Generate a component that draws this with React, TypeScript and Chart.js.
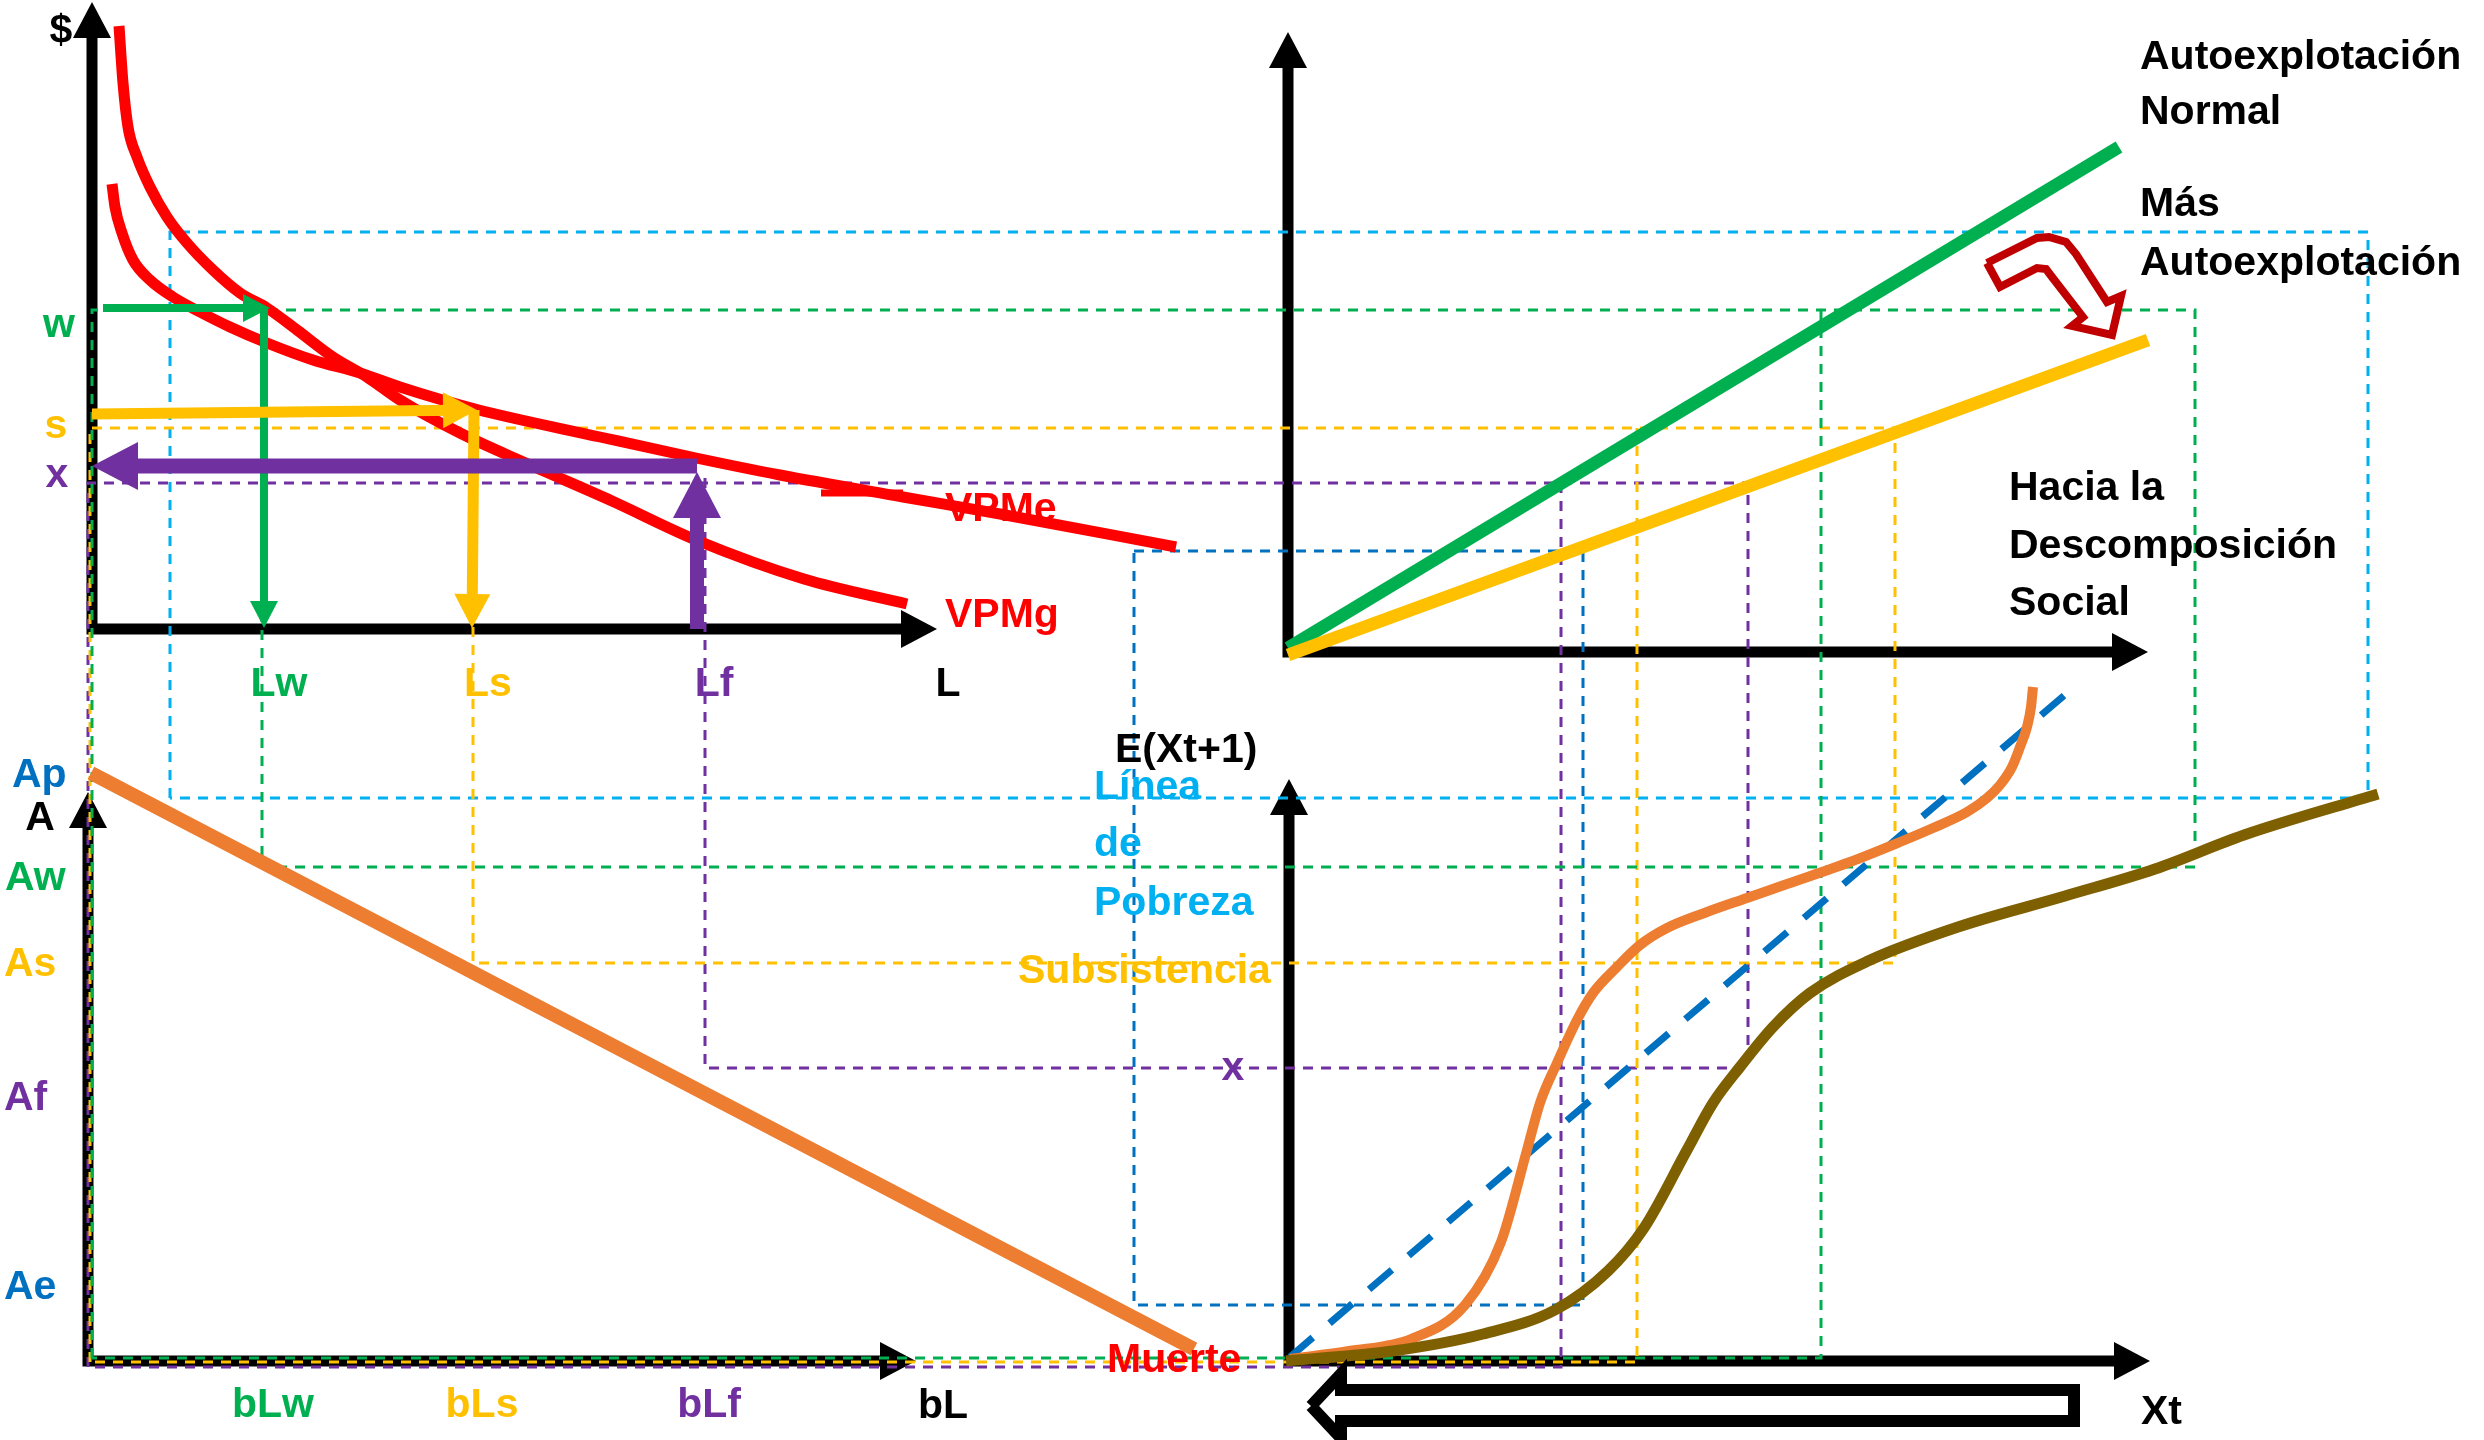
import React, { useEffect, useRef } from 'react';
import { Chart, registerables } from 'chart.js';

Chart.register(...registerables);

type P = { x: number; y: number };
const pts = (a: number[][]): P[] => a.map(([x, y]) => ({ x, y }));

// Diagram coordinate space (one unit = one pixel of the reference picture)
const SPACE_W = 2484;
const SPACE_H = 1440;

const COLORS: Record<string, string> = {
  black: '#000000',
  red: '#FF0000',
  green: '#00B050',
  yellow: '#FFC000',
  purple: '#7030A0',
  sky: '#00B0F0',
  blue: '#0070C0',
  orange: '#ED7D31',
  brown: '#7F6000',
  darkRed: '#C00000',
};

// ---------- Top-left quadrant: $ vs L ----------
const axesTopLeft = pts([[92, 2], [92, 629], [937, 629]]);
const vpmgCurve = pts([
  [119, 26], [123, 83], [128, 127], [137, 157], [150, 187], [167, 217], [187, 243],
  [213, 270], [240, 293], [267, 308], [297, 330], [333, 357], [367, 377], [400, 400],
  [460, 433], [528, 464], [612, 501], [696, 540], [804, 579], [907, 604],
]);
const vpmeCurve = pts([
  [112, 184], [115, 207], [122, 233], [133, 260], [150, 280], [173, 297], [200, 312],
  [230, 327], [267, 343], [313, 360], [360, 373], [400, 387], [475, 409], [600, 437],
  [696, 458], [780, 475], [903, 497], [1000, 514], [1176, 547],
]);
const vpmeStub = pts([[821, 493], [903, 493]]);
const wArrowH = pts([[103, 308], [270, 308]]);
const wArrowV = pts([[264, 308], [264, 628]]);
const sArrowH = pts([[92, 414], [477, 410]]);
const sArrowV = pts([[474, 410], [472, 628]]);
const xArrowH = pts([[697, 466], [92, 466]]);
const xArrowV = pts([[697, 629], [697, 472]]);

// ---------- Top-right quadrant: auto-exploitation lines ----------
const axesTopRight = pts([[1288, 32], [1288, 652], [2148, 652]]);
const normalLine = pts([[1288, 648], [2119, 147]]);
const moreLine = pts([[1288, 655], [2148, 340]]);
const hookArrow = pts([
  [1987, 263], [2037, 238], [2049, 237], [2066, 242], [2076, 254], [2107, 302],
  [2121, 296], [2112, 335], [2072, 326], [2083, 317], [2052, 277], [2046, 269],
  [2037, 268], [2000, 287], [1987, 263],
]);

// ---------- Bottom-left quadrant: A vs bL ----------
const axesBottomLeft = pts([[88, 792], [88, 1361], [916, 1361]]);
const assetLine = pts([[91, 773], [1194, 1349]]);

// ---------- Bottom-right quadrant: E(Xt+1) vs Xt ----------
const axesBottomRight = pts([[1289, 779], [1289, 1361], [2150, 1361]]);
const diagonal45 = pts([[1290, 1357], [2080, 682]]);
const orangeS = pts([
  [1290, 1359], [1349, 1351], [1411, 1339], [1465, 1305], [1501, 1242], [1527, 1150],
  [1540, 1103], [1557, 1063], [1577, 1020], [1593, 993], [1617, 967], [1640, 945],
  [1667, 928], [1707, 912], [1747, 898], [1787, 884], [1850, 862], [1900, 842],
  [1933, 828], [1967, 812], [1987, 798], [2000, 785], [2012, 767], [2020, 747],
  [2027, 727], [2031, 707], [2033, 687],
]);
const brownS = pts([
  [1286, 1361], [1393, 1351], [1483, 1334], [1555, 1310], [1608, 1271], [1644, 1228],
  [1687, 1150], [1713, 1103], [1740, 1067], [1773, 1027], [1810, 993], [1868, 961],
  [1958, 927], [2065, 896], [2155, 869], [2244, 835], [2378, 794],
]);
const backArrow = pts([
  [1311, 1406], [1341, 1374], [1341, 1390], [2074, 1390], [2074, 1421],
  [1341, 1421], [1341, 1438], [1311, 1406],
]);

// ---------- Dashed guide lines ----------
const guideSky = pts([[170, 798], [170, 232], [2368, 232], [2368, 798], [170, 798]]);
const guideGreenA = pts([[92, 1358], [92, 310], [2195, 310], [2195, 867], [262, 867], [262, 310]]);
const guideGreenB = pts([[1821, 310], [1821, 1358], [92, 1358]]);
const guideYellowA = pts([[90, 1362], [90, 428], [1895, 428], [1895, 963], [473, 963], [473, 413]]);
const guideYellowB = pts([[1637, 428], [1637, 1362], [90, 1362]]);
const guidePurpleA = pts([[88, 1367], [88, 483], [1748, 483], [1748, 1068], [705, 1068], [705, 470]]);
const guidePurpleB = pts([[1561, 483], [1561, 1367], [88, 1367]]);
const guideBlue = pts([[1134, 551], [1583, 551], [1583, 1305], [1134, 1305], [1134, 551]]);

// ---------- Text labels: [text, x, y(baseline), colour key, align] ----------
type Lab = [string, number, number, string, CanvasTextAlign];
const labelsTopLeft: Lab[] = [
  ['$', 61, 43, 'black', 'center'],
  ['w', 59, 337, 'green', 'center'],
  ['s', 56, 438, 'yellow', 'center'],
  ['x', 57, 487, 'purple', 'center'],
  ['Lw', 279, 696, 'green', 'center'],
  ['Ls', 488, 696, 'yellow', 'center'],
  ['Lf', 714, 696, 'purple', 'center'],
  ['L', 948, 696, 'black', 'center'],
  ['VPMe', 945, 521, 'red', 'left'],
  ['VPMg', 945, 627, 'red', 'left'],
];
const labelsTopRight: Lab[] = [
  ['Autoexplotación', 2140, 69, 'black', 'left'],
  ['Normal', 2140, 124, 'black', 'left'],
  ['Más', 2140, 216, 'black', 'left'],
  ['Autoexplotación', 2140, 275, 'black', 'left'],
  ['Hacia la', 2009, 500, 'black', 'left'],
  ['Descomposición', 2009, 558, 'black', 'left'],
  ['Social', 2009, 615, 'black', 'left'],
];
const labelsBottomLeft: Lab[] = [
  ['Ap', 12, 787, 'blue', 'left'],
  ['A', 40, 830, 'black', 'center'],
  ['Aw', 5, 890, 'green', 'left'],
  ['As', 4, 976, 'yellow', 'left'],
  ['Af', 4, 1110, 'purple', 'left'],
  ['Ae', 4, 1299, 'blue', 'left'],
  ['bLw', 273, 1417, 'green', 'center'],
  ['bLs', 482, 1417, 'yellow', 'center'],
  ['bLf', 709, 1417, 'purple', 'center'],
  ['bL', 943, 1418, 'black', 'center'],
  ['Muerte', 1107, 1372, 'red', 'left'],
];
const labelsBottomRight: Lab[] = [
  ['E(Xt+1)', 1115, 762, 'black', 'left'],
  ['Línea', 1094, 799, 'sky', 'left'],
  ['de', 1094, 856, 'sky', 'left'],
  ['Pobreza', 1094, 915, 'sky', 'left'],
  ['Subsistencia', 1018, 983, 'yellow', 'left'],
  ['x', 1233, 1080, 'purple', 'center'],
  ['Xt', 2141, 1424, 'black', 'left'],
];
const allLabels = [...labelsTopLeft, ...labelsTopRight, ...labelsBottomLeft, ...labelsBottomRight];

// ---------- dataset builders ----------
function line(data: P[], color: string, width: number, extra: any = {}) {
  return {
    data,
    borderColor: COLORS[color],
    backgroundColor: COLORS[color],
    borderWidth: width,
    showLine: true,
    pointRadius: 0,
    pointHoverRadius: 0,
    fill: false,
    tension: 0,
    borderCapStyle: 'butt',
    borderJoinStyle: 'miter',
    ...extra,
  };
}
const dashed = (data: P[], color: string) => line(data, color, 3, { borderDash: [10, 8] });
const curve = (data: P[], color: string, width: number) =>
  line(data, color, width, { cubicInterpolationMode: 'monotone', borderJoinStyle: 'round' });
const arrow = (data: P[], color: string, width: number, head: number[], both = false) =>
  line(data, color, width, { heads: { end: head, start: both ? head : null } });

const AXIS_HEAD = [36, 19];
const GREEN_HEAD = [27, 14];
const YELLOW_HEAD = [34, 18];
const PURPLE_HEAD = [46, 24];

function buildDatasets() {
  const layers: any[] = [
    arrow(axesTopLeft, 'black', 11, AXIS_HEAD, true),
    arrow(axesTopRight, 'black', 11, AXIS_HEAD, true),
    arrow(axesBottomLeft, 'black', 11, AXIS_HEAD, true),
    arrow(axesBottomRight, 'black', 11, AXIS_HEAD, true),
    dashed(guideSky, 'sky'),
    dashed(guideBlue, 'blue'),
    dashed(guidePurpleA, 'purple'),
    dashed(guidePurpleB, 'purple'),
    dashed(guideYellowA, 'yellow'),
    dashed(guideYellowB, 'yellow'),
    dashed(guideGreenA, 'green'),
    dashed(guideGreenB, 'green'),
    line(assetLine, 'orange', 14),
    line(diagonal45, 'blue', 7, { borderDash: [30, 22] }),
    curve(orangeS, 'orange', 10),
    curve(brownS, 'brown', 11),
    line(backArrow, 'black', 12),
    line(normalLine, 'green', 13),
    line(moreLine, 'yellow', 13),
    line(hookArrow, 'darkRed', 8, { fill: 'shape', backgroundColor: '#FFFFFF' }),
    curve(vpmgCurve, 'red', 11),
    curve(vpmeCurve, 'red', 11),
    line(vpmeStub, 'red', 7),
    arrow(wArrowH, 'green', 8, GREEN_HEAD),
    arrow(wArrowV, 'green', 8, GREEN_HEAD),
    arrow(sArrowH, 'yellow', 11, YELLOW_HEAD),
    arrow(sArrowV, 'yellow', 11, YELLOW_HEAD),
    arrow(xArrowH, 'purple', 15, PURPLE_HEAD),
    arrow(xArrowV, 'purple', 14, PURPLE_HEAD),
  ];
  const n = layers.length;
  return layers.map((d, i) => ({ ...d, order: n - i }));
}

// ---------- plugins ----------
function headGeom(tip: any, prev: any) {
  const dx = tip.x - prev.x;
  const dy = tip.y - prev.y;
  const m = Math.hypot(dx, dy) || 1;
  return { ux: dx / m, uy: dy / m };
}

const arrowPlugin = {
  id: 'arrowHeads',
  beforeDatasetDraw(chart: any, args: any) {
    const ds = chart.data.datasets[args.index];
    const heads = ds && ds.heads;
    if (!heads) return;
    const el = args.meta.data;
    const n = el.length;
    const saved: any[] = [];
    const trim = (tip: any, prev: any, head: number[]) => {
      const g = headGeom(tip, prev);
      saved.push({ p: tip, x: tip.x, y: tip.y, ux: g.ux, uy: g.uy, head, color: ds.borderColor });
      tip.x = tip.x - g.ux * head[0] * 0.6;
      tip.y = tip.y - g.uy * head[0] * 0.6;
    };
    if (heads.end) trim(el[n - 1], el[n - 2], heads.end);
    if (heads.start) trim(el[0], el[1], heads.start);
    args.meta._arrowSaved = saved;
  },
  afterDatasetDraw(chart: any, args: any) {
    const saved = args.meta._arrowSaved;
    if (!saved) return;
    const ctx = chart.ctx;
    for (const s of saved) {
      s.p.x = s.x;
      s.p.y = s.y;
      const [len, hw] = s.head;
      const bx = s.x - s.ux * len;
      const by = s.y - s.uy * len;
      const nx = -s.uy;
      const ny = s.ux;
      ctx.save();
      ctx.fillStyle = s.color;
      ctx.beginPath();
      ctx.moveTo(s.x, s.y);
      ctx.lineTo(bx + nx * hw, by + ny * hw);
      ctx.lineTo(bx - nx * hw, by - ny * hw);
      ctx.closePath();
      ctx.fill();
      ctx.restore();
    }
    args.meta._arrowSaved = null;
  },
};

const textPlugin = {
  id: 'diagramText',
  afterDraw(chart: any) {
    const ctx = chart.ctx;
    const xs = chart.scales.x;
    const ys = chart.scales.y;
    ctx.save();
    ctx.font = 'bold 41px "Liberation Sans", Arial, sans-serif';
    ctx.textBaseline = 'alphabetic';
    for (const [t, x, y, c, a] of allLabels) {
      ctx.fillStyle = COLORS[c];
      ctx.textAlign = a;
      ctx.fillText(t, xs.getPixelForValue(x), ys.getPixelForValue(y));
    }
    ctx.restore();
  },
};

export default function App() {
  const ref = useRef<HTMLCanvasElement>(null);
  useEffect(() => {
    document.body.style.margin = '0';
    const canvas = ref.current;
    if (!canvas) return;
    const chart = new Chart(canvas, {
      type: 'scatter',
      data: { datasets: buildDatasets() as any },
      options: {
        animation: false,
        responsive: false,
        devicePixelRatio: 1,
        events: [],
        layout: { padding: 0 },
        plugins: { legend: { display: false }, tooltip: { enabled: false }, title: { display: false } },
        scales: {
          x: { type: 'linear', min: 0, max: SPACE_W, display: false },
          y: { type: 'linear', min: 0, max: SPACE_H, reverse: true, display: false },
        },
      } as any,
      plugins: [arrowPlugin as any, textPlugin as any],
    });
    return () => chart.destroy();
  }, []);
  return (
    <div style={{ position: 'fixed', left: 0, top: 0, width: SPACE_W, height: SPACE_H, background: '#ffffff' }}>
      <canvas ref={ref} width={SPACE_W} height={SPACE_H} style={{ display: 'block', width: SPACE_W, height: SPACE_H }} />
    </div>
  );
}
